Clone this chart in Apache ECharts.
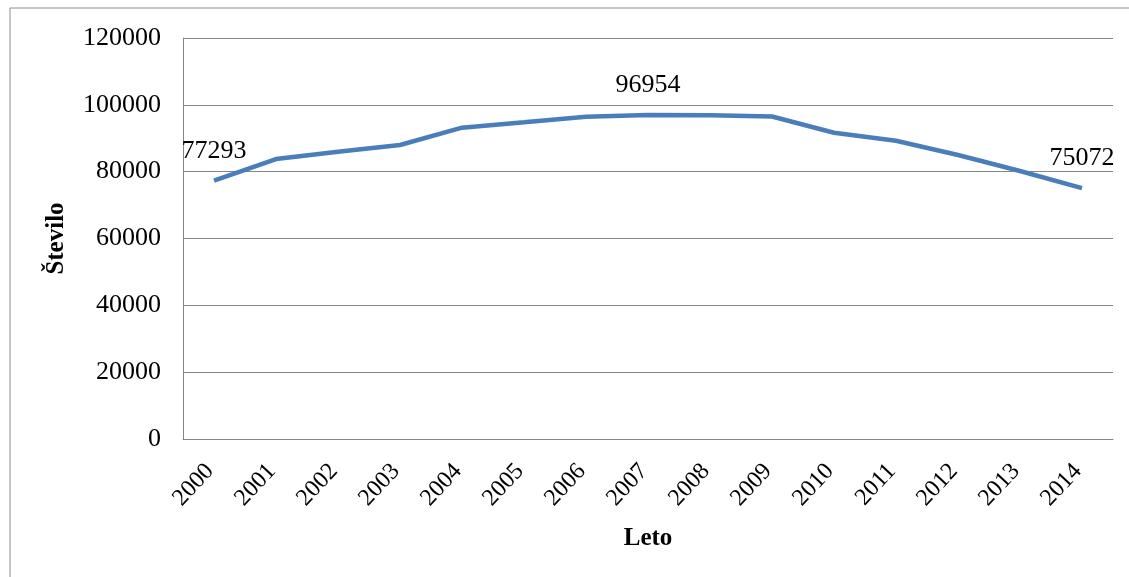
<!DOCTYPE html>
<html>
<head>
<meta charset="utf-8">
<script src="https://cdn.jsdelivr.net/npm/echarts@6/dist/echarts.min.js"></script>
<style>
html,body{margin:0;padding:0;background:#fff;}
#c{width:1129px;height:577px;}
</style>
</head>
<body>
<div id="c"></div>
<script>
const years = ['2000','2001','2002','2003','2004','2005','2006','2007','2008','2009','2010','2011','2012','2013','2014'];
const counts = [77293, 83790, 85950, 87980, 93160, 94770, 96450, 96954, 96850, 96500, 91660, 89270, 84990, 80200, 75072];
const labeledYears = ['2000','2007','2014'];
const yTicks = [0, 20000, 40000, 60000, 80000, 100000, 120000];
const yAxisName = 'Število';
const xAxisName = 'Leto';

const FONT = '"Liberation Serif", "Times New Roman", serif';
const chart = echarts.init(document.getElementById('c'));
const seriesData = counts.map((v, i) => ({
  value: v,
  label: { show: labeledYears.includes(years[i]) }
}));

chart.setOption({
  backgroundColor: '#ffffff',
  animation: false,
  graphic: [{
    type: 'rect',
    shape: { x: 10, y: 8, width: 1200, height: 650 },
    style: { fill: 'none', stroke: '#8c8c8c', lineWidth: 1 },
    silent: true
  }],
  grid: { left: 183, right: 16, top: 38, bottom: 138, containLabel: false },
  xAxis: {
    type: 'category',
    data: years,
    boundaryGap: true,
    name: xAxisName,
    nameLocation: 'middle',
    nameGap: 87,
    nameTextStyle: { fontFamily: FONT, fontSize: 25, fontWeight: 'bold', color: '#000' },
    axisLine: { lineStyle: { color: '#868686', width: 1 } },
    axisTick: { show: false },
    axisLabel: { rotate: 47, margin: 24, fontFamily: FONT, fontSize: 24, color: '#000', interval: 0,
      padding: [0, 6, 0, 0] },
    splitLine: { show: false }
  },
  yAxis: {
    type: 'value',
    min: yTicks[0],
    max: yTicks[yTicks.length - 1],
    interval: yTicks[1] - yTicks[0],
    name: yAxisName,
    nameLocation: 'middle',
    nameRotate: 90,
    nameGap: 114,
    nameTextStyle: { fontFamily: FONT, fontSize: 25, fontWeight: 'bold', color: '#000' },
    axisLine: { show: true, lineStyle: { color: '#868686', width: 1 } },
    axisTick: { show: false },
    axisLabel: { margin: 22, fontFamily: FONT, fontSize: 26, color: '#000',
      formatter: (v) => String(v) },
    splitLine: { show: true, lineStyle: { color: '#868686', width: 1 } }
  },
  series: [{
    type: 'line',
    data: seriesData,
    showSymbol: true,
    symbol: 'circle',
    symbolSize: 0,
    itemStyle: { color: '#4A7EBB' },
    lineStyle: { color: '#4A7EBB', width: 4.5 },
    label: { show: false, position: 'top', distance: 17, fontFamily: FONT, fontSize: 26, color: '#000',
      formatter: (p) => String(p.value) }
  }]
});
</script>
</body>
</html>
